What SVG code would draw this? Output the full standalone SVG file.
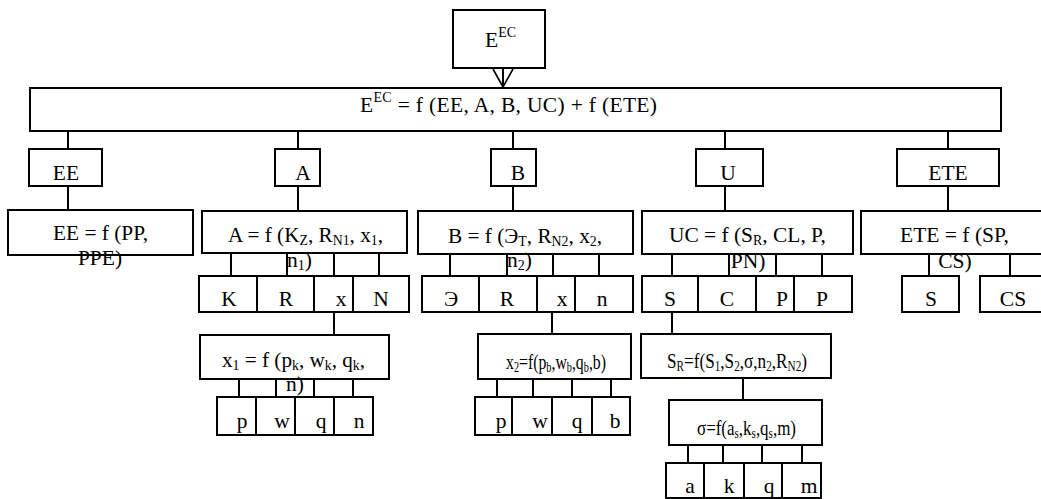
<svg xmlns="http://www.w3.org/2000/svg" width="1041" height="499" viewBox="0 0 1041 499">
<style>
rect{fill:#fff;stroke:#000;stroke-width:2}
line{stroke:#000;stroke-width:2}
text{font-family:"Liberation Serif","Times New Roman",serif;font-size:21.5px;fill:#000}
.m{text-anchor:middle}
.s{font-size:14px}
</style>
<g id="connectors">
<line x1="503" y1="68" x2="503" y2="87"/>
<path d="M493,69 L503,87 L513,69" fill="none" stroke="#000" stroke-width="1.6"/>
<line x1="68" y1="131" x2="68" y2="210"/>
<line x1="298" y1="131" x2="298" y2="211"/>
<line x1="513" y1="131" x2="513" y2="212"/>
<line x1="725" y1="131" x2="725" y2="211"/>
<line x1="948" y1="131" x2="948" y2="211"/>
<line x1="231" y1="253" x2="231" y2="276"/>
<line x1="287" y1="253" x2="287" y2="276"/>
<line x1="334" y1="253" x2="334" y2="276"/>
<line x1="379" y1="253" x2="379" y2="276"/>
<line x1="450" y1="254" x2="450" y2="276"/>
<line x1="507" y1="254" x2="507" y2="276"/>
<line x1="553" y1="254" x2="553" y2="276"/>
<line x1="599" y1="254" x2="599" y2="276"/>
<line x1="672" y1="254" x2="672" y2="276"/>
<line x1="729" y1="254" x2="729" y2="276"/>
<line x1="776" y1="254" x2="776" y2="276"/>
<line x1="822" y1="254" x2="822" y2="276"/>
<line x1="929" y1="254" x2="929" y2="276"/>
<line x1="1010" y1="254" x2="1010" y2="276"/>
<line x1="334" y1="312" x2="334" y2="335"/>
<line x1="239" y1="379" x2="239" y2="397"/>
<line x1="276" y1="379" x2="276" y2="397"/>
<line x1="314" y1="379" x2="314" y2="397"/>
<line x1="353" y1="379" x2="353" y2="397"/>
<line x1="552" y1="312" x2="552" y2="334"/>
<line x1="497" y1="379" x2="497" y2="397"/>
<line x1="533" y1="379" x2="533" y2="397"/>
<line x1="572" y1="379" x2="572" y2="397"/>
<line x1="611" y1="379" x2="611" y2="397"/>
<line x1="672" y1="312" x2="672" y2="334"/>
<line x1="743" y1="378" x2="743" y2="400"/>
<line x1="688" y1="445" x2="688" y2="463"/>
<line x1="723" y1="445" x2="723" y2="463"/>
<line x1="762" y1="445" x2="762" y2="463"/>
<line x1="802" y1="445" x2="802" y2="463"/>
</g>
<g id="n-eec"><rect x="453" y="10" width="92" height="58"/><text x="485" y="47">E<tspan class="s" dy="-10">EC</tspan></text></g>
<g id="n-main"><rect x="30" y="88" width="971" height="43"/><text x="360" y="112" textLength="297" lengthAdjust="spacing">E<tspan class="s" dy="-10">EC</tspan><tspan dy="10"> = f (EE, A, B, UC) + f (ETE)</tspan></text></g>
<g id="n-ee"><rect x="29" y="149" width="73" height="37"/><text class="m" x="66" y="180">EE</text></g>
<g id="n-a"><rect x="275" y="149" width="45" height="37"/><text class="m" x="303" y="180">A</text></g>
<g id="n-b"><rect x="491" y="149" width="45" height="37"/><text class="m" x="518" y="180">B</text></g>
<g id="n-u"><rect x="696" y="149" width="67" height="37"/><text class="m" x="728" y="180">U</text></g>
<g id="n-ete"><rect x="897" y="149" width="102" height="37"/><text class="m" x="948" y="180">ETE</text></g>
<g id="n-eef"><rect x="8" y="210" width="185" height="45"/><text x="53" y="240" textLength="95" lengthAdjust="spacingAndGlyphs">EE = f (PP,</text><text class="m" x="100" y="265">PPE)</text></g>
<g id="n-af"><rect x="202" y="211" width="205" height="42"/><text x="228" y="242" textLength="155" lengthAdjust="spacingAndGlyphs">A = f (K<tspan class="s" dy="3">Z</tspan><tspan dy="-3">, R</tspan><tspan class="s" dy="3">N1</tspan><tspan dy="-3">, x</tspan><tspan class="s" dy="3">1</tspan><tspan dy="-3">,</tspan></text><text x="287" y="267">n<tspan class="s" dy="3">1</tspan><tspan dy="-3">)</tspan></text></g>
<g id="n-bf"><rect x="418" y="211" width="215" height="43"/><text x="448" y="243" textLength="154" lengthAdjust="spacingAndGlyphs">B = f (Э<tspan class="s" dy="3">T</tspan><tspan dy="-3">, R</tspan><tspan class="s" dy="3">N2</tspan><tspan dy="-3">, x</tspan><tspan class="s" dy="3">2</tspan><tspan dy="-3">,</tspan></text><text x="507" y="267">n<tspan class="s" dy="3">2</tspan><tspan dy="-3">)</tspan></text></g>
<g id="n-uf"><rect x="642" y="211" width="211" height="43"/><text x="669" y="242" textLength="157" lengthAdjust="spacingAndGlyphs">UC = f (S<tspan class="s" dy="3">R</tspan><tspan dy="-3">, CL, P,</tspan></text><text class="m" x="748" y="268">PN)</text></g>
<g id="n-etef"><rect x="861" y="211" width="185" height="43"/><text x="900" y="242" textLength="109" lengthAdjust="spacingAndGlyphs">ETE = f (SP,</text><text class="m" x="955" y="268">CS)</text></g>
<g id="n-k"><rect x="199" y="276" width="58" height="36"/><text class="m" x="229" y="306">K</text></g>
<g id="n-r1"><rect x="257" y="276" width="57" height="36"/><text class="m" x="286" y="306">R</text></g>
<g id="n-x1"><rect x="314" y="276" width="39" height="36"/><text class="m" x="341" y="306">x</text></g>
<g id="n-n1"><rect x="353" y="276" width="56" height="36"/><text class="m" x="381" y="306">N</text></g>
<g id="n-e"><rect x="422" y="276" width="57" height="36"/><text class="m" x="451" y="306">Э</text></g>
<g id="n-r2"><rect x="479" y="276" width="58" height="36"/><text class="m" x="507" y="306">R</text></g>
<g id="n-x2"><rect x="537" y="276" width="38" height="36"/><text class="m" x="562" y="306">x</text></g>
<g id="n-n2"><rect x="575" y="276" width="58" height="36"/><text class="m" x="602" y="306">n</text></g>
<g id="n-s"><rect x="642" y="276" width="56" height="36"/><text class="m" x="670" y="306">S</text></g>
<g id="n-c"><rect x="698" y="276" width="58" height="36"/><text class="m" x="727" y="306">C</text></g>
<g id="n-p1"><rect x="756" y="276" width="38" height="36"/><text class="m" x="782" y="306">P</text></g>
<g id="n-p2"><rect x="794" y="276" width="58" height="36"/><text class="m" x="822" y="306">P</text></g>
<g id="n-s2"><rect x="902" y="276" width="57" height="36"/><text class="m" x="931" y="306">S</text></g>
<g id="n-cs"><rect x="980" y="276" width="66" height="36"/><text class="m" x="1013" y="306">CS</text></g>
<g id="n-x1f"><rect x="200" y="335" width="189" height="44"/><text x="222" y="367" textLength="143" lengthAdjust="spacingAndGlyphs">x<tspan class="s" dy="3">1</tspan><tspan dy="-3"> = f (p</tspan><tspan class="s" dy="3">k</tspan><tspan dy="-3">, w</tspan><tspan class="s" dy="3">k</tspan><tspan dy="-3">, q</tspan><tspan class="s" dy="3">k</tspan><tspan dy="-3">,</tspan></text><text class="m" x="295" y="391">n)</text></g>
<g id="n-p"><rect x="217" y="397" width="39" height="38"/><text class="m" x="242" y="428">p</text></g>
<g id="n-w"><rect x="256" y="397" width="39" height="38"/><text class="m" x="282" y="428">w</text></g>
<g id="n-q"><rect x="295" y="397" width="39" height="38"/><text class="m" x="321" y="428">q</text></g>
<g id="n-n3"><rect x="334" y="397" width="39" height="38"/><text class="m" x="359" y="428">n</text></g>
<g id="n-x2f"><rect x="478" y="334" width="153" height="45"/><text x="506" y="369" textLength="100" lengthAdjust="spacingAndGlyphs">x<tspan class="s" dy="3">2</tspan><tspan dy="-3">=f(p</tspan><tspan class="s" dy="3">b</tspan><tspan dy="-3">,w</tspan><tspan class="s" dy="3">b</tspan><tspan dy="-3">,q</tspan><tspan class="s" dy="3">b</tspan><tspan dy="-3">,b)</tspan></text></g>
<g id="n-pb"><rect x="475" y="397" width="37" height="38"/><text class="m" x="501" y="428">p</text></g>
<g id="n-wb"><rect x="512" y="397" width="40" height="38"/><text class="m" x="540" y="428">w</text></g>
<g id="n-qb"><rect x="552" y="397" width="40" height="38"/><text class="m" x="577" y="428">q</text></g>
<g id="n-bb"><rect x="592" y="397" width="38" height="38"/><text class="m" x="615" y="428">b</text></g>
<g id="n-srf"><rect x="641" y="334" width="190" height="44"/><text x="667" y="368" textLength="140" lengthAdjust="spacingAndGlyphs">S<tspan class="s" dy="3">R</tspan><tspan dy="-3">=f(S</tspan><tspan class="s" dy="3">1</tspan><tspan dy="-3">,S</tspan><tspan class="s" dy="3">2</tspan><tspan dy="-3">,σ,n</tspan><tspan class="s" dy="3">2</tspan><tspan dy="-3">,R</tspan><tspan class="s" dy="3">N2</tspan><tspan dy="-3">)</tspan></text></g>
<g id="n-sigf"><rect x="669" y="400" width="153" height="45"/><text x="697" y="435" textLength="99" lengthAdjust="spacingAndGlyphs">σ=f(a<tspan class="s" dy="3">s</tspan><tspan dy="-3">,k</tspan><tspan class="s" dy="3">s</tspan><tspan dy="-3">,q</tspan><tspan class="s" dy="3">s</tspan><tspan dy="-3">,m)</tspan></text></g>
<g id="n-a2"><rect x="666" y="463" width="38" height="35"/><text class="m" x="690" y="493">a</text></g>
<g id="n-k2"><rect x="704" y="463" width="40" height="35"/><text class="m" x="729" y="493">k</text></g>
<g id="n-q2"><rect x="744" y="463" width="38" height="35"/><text class="m" x="769" y="493">q</text></g>
<g id="n-m"><rect x="782" y="463" width="39" height="35"/><text class="m" x="809" y="493">m</text></g>
</svg>
